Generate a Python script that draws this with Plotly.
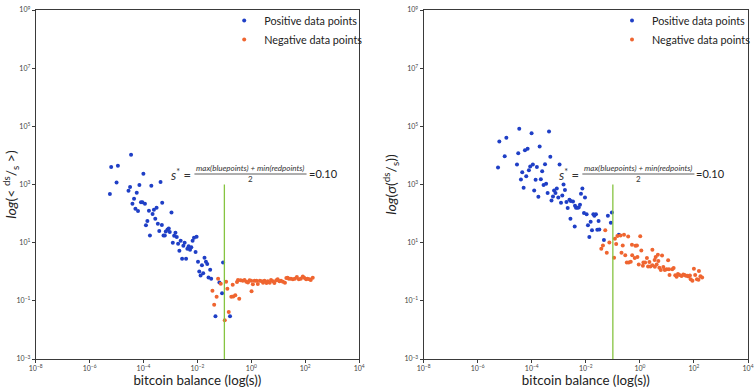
import plotly.graph_objects as go

# ---------------- data ----------------
s_star = 0.10
s_star_line_y = [1e-3, 1e3]

left_pos_balance = [3.45e-5, 6.3e-6, 1.12e-5, 9.9e-5, 1.0e-5, 4.28e-4, 3.17e-5, 7.03e-5, 1.95e-4, 2.77e-5,
                    5.6e-5, 5.66e-6, 4.45e-5, 3.88e-5, 8.05e-5, 9.08e-5, 1.13e-4, 4.94e-4, 5.01e-5, 6.25e-5,
                    1.59e-4, 2.43e-4, 3.05e-4, 2.17e-4, 1.39e-4, 2.73e-4, 1.23e-4, 3.40e-4, 3.84e-4, 1.73e-4,
                    5.52e-4, 6.17e-4, 6.71e-4, 7.76e-4, 4.79e-4, 8.65e-4, 9.42e-4, 1.53e-3, 1.37e-3, 1.71e-3,
                    2.39e-3, 1.22e-3, 1.92e-3, 3.36e-3, 3.01e-3, 4.72e-3, 4.23e-3, 5.32e-3, 5.93e-3, 6.62e-3,
                    7.46e-3, 9.31e-3, 2.14e-3, 8.55e-3, 2.70e-3, 3.79e-3, 1.05e-2, 1.83e-2, 2.07e-2, 2.31e-2,
                    1.47e-2, 8.95e-2, 2.97e-2, 1.17e-2, 1.64e-2, 1.31e-2, 2.58e-2, 3.24e-2, 6.55e-2, 8.22e-2,
                    4.67e-2, 0.162, 1.09e-3]
left_pos_value = [1.06e4, 3.96e3, 4.43e3, 2.35e3, 1.18e3, 1.21e3, 815, 953, 910, 612,
                  523, 468, 325, 219, 243, 243, 219, 237, 147, 122,
                  126, 136, 160, 96, 55.2, 66.8, 39.4, 45, 25, 17.8,
                  17.8, 17.8, 24.4, 28.6, 40.3, 31, 23.1, 22.1, 17.4, 15.6,
                  11.7, 10, 9.2, 10, 7.9, 7.46, 6.2, 5.7, 6.9, 11.7,
                  14.9, 16.1, 5.3, 4.75, 2.82, 2.82, 2.22, 3.05, 2.22, 1.84,
                  1.66, 2.06, 1.18, 1.03, 0.88, 0.75, 0.64, 0.58, 0.43, 0.181,
                  0.0293, 0.0293, 110]

left_neg_balance = [5.86e-2, 7.36e-2, 3.61e-2, 5.16e-2, 4.18e-2, 0.116, 0.129, 0.204, 0.181, 0.214,
                    0.254, 0.356, 0.145, 0.1035, 0.294, 0.32, 0.40, 0.48, 0.56, 0.65,
                    0.75, 0.86, 0.99, 1.02, 1.14, 1.32, 1.56, 1.74, 2.07, 2.45,
                    2.73, 3.08, 3.65, 4.07, 4.82, 5.38, 6.38, 7.18, 8.51, 9.5,
                    11.0, 12.6, 14.9, 17.7, 19.9, 22.2, 24.8, 29.4, 34.8, 41.2,
                    48.9, 57.8, 68.5, 81.3, 91.4, 108, 121, 144, 160, 190]
left_neg_value = [0.58, 0.39, 0.224, 0.139, 0.074, 0.45, 0.262, 0.36, 0.137, 0.14,
                  0.157, 0.119, 0.041, 0.0217, 0.44, 0.52, 0.506, 0.494, 0.52, 0.457,
                  0.43, 0.506, 0.494, 0.212, 0.369, 0.494, 0.494, 0.378, 0.494, 0.468,
                  0.42, 0.494, 0.41, 0.468, 0.42, 0.52, 0.468, 0.41, 0.506, 0.548,
                  0.468, 0.494, 0.457, 0.42, 0.608, 0.627, 0.58, 0.58, 0.548, 0.58,
                  0.658, 0.548, 0.58, 0.68, 0.627, 0.548, 0.58, 0.548, 0.52, 0.627]

right_pos_balance = [3.45e-5, 9.87e-5, 4.36e-4, 6.32e-6, 1.15e-5, 1.96e-4, 5.6e-5, 7.03e-5, 3.17e-5, 1.0e-5,
                     4.86e-4, 5.66e-6, 2.84e-5, 8.77e-5, 1.10e-4, 1.55e-4, 3.10e-4, 1.07e-3, 4.45e-5, 7.85e-5,
                     2.43e-4, 6.25e-5, 3.98e-5, 1.39e-4, 2.17e-4, 2.73e-4, 3.40e-4, 5.01e-5, 1.23e-4, 1.50e-3,
                     8.44e-4, 6.71e-4, 7.55e-4, 1.69e-3, 7.46e-3, 3.87e-4, 6.62e-3, 1.76e-4, 6.11e-4, 9.59e-4,
                     1.35e-3, 5.38e-4, 1.21e-3, 1.92e-3, 2.48e-3, 2.77e-3, 3.36e-3, 3.98e-3, 4.34e-3, 4.89e-3,
                     5.46e-3, 6.09e-3, 2.14e-3, 2.70e-3, 9.31e-3, 8.55e-3, 1.07e-2, 1.90e-2, 2.37e-2, 2.07e-2,
                     1.51e-2, 6.55e-2, 9.19e-2, 8.44e-2, 2.97e-2, 3.88e-3, 1.20e-2, 1.69e-2, 2.66e-2, 3.16e-2,
                     1.35e-2, 4.67e-2, 0.166]
right_pos_value = [8.28e4, 5.83e4, 6.68e4, 3.03e4, 4.09e4, 2.04e4, 1.52e4, 1.70e4, 1.19e4, 9.4e3,
                   9.0e3, 3.87e3, 4.83e3, 4.19e3, 4.91e3, 3.96e3, 4.99e3, 4.83e3, 2.65e3, 3.10e3,
                   2.88e3, 1.93e3, 1.50e3, 1.47e3, 1.53e3, 968, 1.06e3, 776, 627, 993,
                   735, 617, 514, 642, 735, 514, 483, 381, 384, 355,
                   416, 284, 237, 248, 301, 269, 262, 187, 160, 160,
                   163, 202, 155, 66.8, 360, 104, 94, 94, 94, 84.7,
                   52.7, 84.7, 110, 48.7, 55.2, 36.3, 39.4, 26.5, 28, 28.6,
                   15.6, 12.3, 18.8]

right_neg_balance = [5.25e-2, 4.29e-2, 3.74e-2, 5.96e-2, 7.43e-2, 0.119, 0.111, 0.133, 0.147, 0.192,
                     0.259, 0.209, 0.232, 0.288, 0.369, 0.328, 0.388, 0.460, 0.509, 0.519,
                     0.645, 0.813, 1.03, 1.13, 0.686, 0.778, 1.35, 1.56, 1.29, 1.82,
                     2.25, 2.01, 2.45, 2.90, 2.9, 3.58, 3.84, 4.62, 4.82, 4.18,
                     5.25, 6.6, 5.96, 8.37, 9.75, 11.1, 7.37, 11.9, 12.5, 15.8,
                     17.7, 20.4, 22.8, 25.6, 29.1, 34.8, 40.2, 44.9, 50.6, 57.4,
                     63, 71, 75.9, 87.7, 99.5, 111, 129, 147, 153, 174,
                     201, 3.52, 0.908]
right_neg_value = [26.5, 8.07, 6.12, 4.46, 10.1, 13.7, 3.0, 8.95, 16.9, 17.8,
                   18.8, 4.46, 7.94, 3.72, 16.2, 2.07, 2.07, 2.19, 8.4, 3.72,
                   2.96, 3.2, 16.5, 5.36, 7.76, 8.07, 2.10, 2.06, 1.60, 2.96,
                   2.15, 1.51, 1.51, 1.66, 5.7, 1.50, 3.2, 3.81, 2.33, 1.79,
                   1.38, 3.61, 1.16, 1.16, 1.21, 2.47, 1.45, 1.23, 0.78, 1.21,
                   1.34, 0.76, 0.67, 0.83, 0.78, 0.71, 0.81, 0.77, 0.73, 0.73,
                   0.68, 0.75, 0.55, 0.49, 1.28, 0.78, 0.55, 0.53, 1.06, 0.70,
                   0.63, 2.52, 1.79]

x_tickvals = [1e-8, 1e-6, 1e-4, 1e-2, 1e0, 1e2, 1e4]
x_ticktext = ["10<sup>−8</sup>", "10<sup>−6</sup>", "10<sup>−4</sup>", "10<sup>−2</sup>",
              "10<sup>0</sup>", "10<sup>2</sup>", "10<sup>4</sup>"]
y_tickvals = [1e-3, 1e-1, 1e1, 1e3, 1e5, 1e7, 1e9]
y_ticktext = ["10<sup>−3</sup>", "10<sup>−1</sup>", "10<sup>1</sup>", "10<sup>3</sup>",
              "10<sup>5</sup>", "10<sup>7</sup>", "10<sup>9</sup>"]

pos_name = "Positive data points"
neg_name = "Negative data points"
x_title = "bitcoin balance (log(s))"
left_y_title = "<i>log</i>(< <sup>ds</sup>/<sub>s</sub> >)"
right_y_title = "<i>log</i>(<i>σ</i>(<sup>ds</sup>/<sub>s</sub>))"

# ---------------- styling ----------------
W, H = 756, 390
FONT = "Lato, 'Open Sans', sans-serif"
BLUE = "#1f3fc6"
ORANGE = "#ef6530"
GREEN = "#86c440"

# axes boxes in pixels
LEFT_BOX = (36, 362)
RIGHT_BOX = (427, 754)
TOP, BOTTOM = 10, 359

fig = go.Figure()

def add_panel(xa, ya, pb, pv, nb, nv, legend):
    fig.add_trace(go.Scatter(x=pb, y=pv, mode="markers", name=pos_name, xaxis=xa, yaxis=ya,
                             marker=dict(color=BLUE, size=4), legend=legend))
    fig.add_trace(go.Scatter(x=nb, y=nv, mode="markers", name=neg_name, xaxis=xa, yaxis=ya,
                             marker=dict(color=ORANGE, size=4), legend=legend))
    fig.add_trace(go.Scatter(x=[s_star, s_star], y=s_star_line_y, mode="lines", xaxis=xa, yaxis=ya,
                             line=dict(color=GREEN, width=1.3), showlegend=False, hoverinfo="skip"))

add_panel("x", "y", left_pos_balance, left_pos_value, left_neg_balance, left_neg_value, "legend")
add_panel("x2", "y2", right_pos_balance, right_pos_value, right_neg_balance, right_neg_value, "legend2")

def xdom(box):
    return [box[0] / W, box[1] / W]

ydom = [1 - BOTTOM / H, 1 - TOP / H]

axis_common = dict(type="log", showgrid=False, zeroline=False, showline=True, mirror=True,
                   automargin=False,
                   linecolor="#3a3a3a", linewidth=1, ticks="outside", ticklen=3, tickwidth=1,
                   tickcolor="#3a3a3a", tickfont=dict(family=FONT, size=7, color="#444"))

xaxis_common = dict(axis_common, range=[-8, 4], tickvals=x_tickvals, ticktext=x_ticktext,
                    title=dict(text=x_title, font=dict(family=FONT, size=13.3, color="#222"), standoff=3))

fig.update_layout(
    width=W, height=H,
    margin=dict(l=0, r=0, t=0, b=0),
    paper_bgcolor="white", plot_bgcolor="white",
    font=dict(family=FONT, color="#222"),
    xaxis=dict(xaxis_common, domain=xdom(LEFT_BOX), anchor="y"),
    xaxis2=dict(xaxis_common, domain=xdom(RIGHT_BOX), anchor="y2"),
    yaxis=dict(axis_common, range=[-3, 9], tickvals=y_tickvals, ticktext=y_ticktext,
               domain=ydom, anchor="x",
               title=dict(text=left_y_title, font=dict(family=FONT, size=14, color="#222"), standoff=4)),
    yaxis2=dict(axis_common, range=[-3, 9], tickvals=y_tickvals, ticktext=y_ticktext,
                domain=ydom, anchor="x2",
                title=dict(text=right_y_title, font=dict(family=FONT, size=14, color="#222"), standoff=4)),
    legend=dict(x=226 / W, y=1 - 6 / H, xanchor="left", yanchor="top", bgcolor="rgba(0,0,0,0)",
                font=dict(family=FONT, size=10.8, color="#222"), itemwidth=30),
    legend2=dict(x=(226 + 391) / W, y=1 - 6 / H, xanchor="left", yanchor="top", bgcolor="rgba(0,0,0,0)",
                 font=dict(family=FONT, size=10.8, color="#222"), itemwidth=30),
    showlegend=True,
)

# formula annotation  s* = (max(bluepoints)+min(redpoints))/2 = 0.10
def add_formula(dx):
    def px(x):
        return (x + dx) / W
    def py(y):
        return 1 - y / H
    fig.add_annotation(x=px(195), y=py(174), xref="paper", yref="paper", xanchor="right", yanchor="middle",
                       text="<i>s</i><sup>*</sup> =", showarrow=False,
                       font=dict(family=FONT, size=13, color="#333"))
    fig.add_annotation(x=px(252.5), y=py(168), xref="paper", yref="paper", xanchor="center", yanchor="middle",
                       text="<i>max(bluepoints) + min(redpoints)</i>", showarrow=False,
                       font=dict(family=FONT, size=8, color="#333"))
    fig.add_annotation(x=px(252.5), y=py(179.5), xref="paper", yref="paper", xanchor="center", yanchor="middle",
                       text="2", showarrow=False, font=dict(family=FONT, size=8, color="#333"))
    fig.add_annotation(x=px(309), y=py(173.5), xref="paper", yref="paper", xanchor="left", yanchor="middle",
                       text="=0.10", showarrow=False, font=dict(family=FONT, size=11, color="#222"))
    fig.add_shape(type="line", xref="paper", yref="paper", x0=px(196), x1=px(309), y0=py(174), y1=py(174),
                  line=dict(color="#333", width=0.8))

add_formula(0)
add_formula(391)

fig.write_html("out.html", config={"displayModeBar": False},
               post_script="document.body.style.margin='0';document.body.style.overflow='hidden';")
